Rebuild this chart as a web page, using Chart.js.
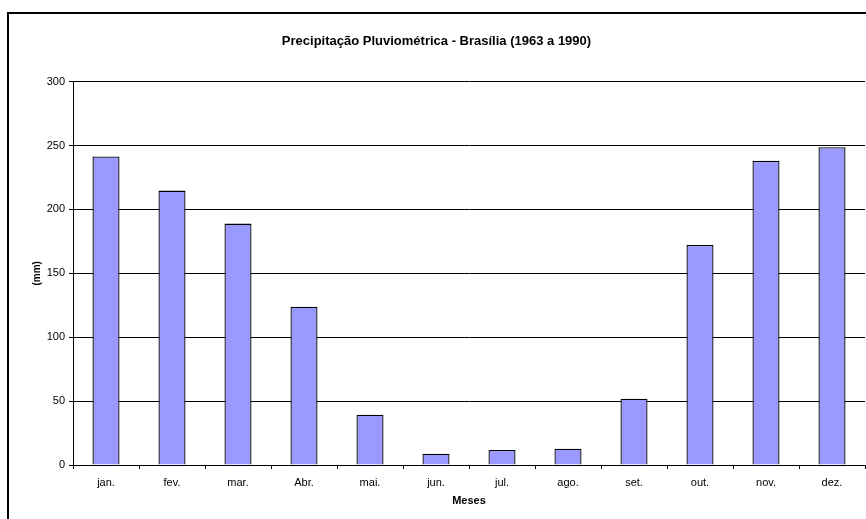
<!DOCTYPE html>
<html>
<head>
<meta charset="utf-8">
<script src="https://cdn.jsdelivr.net/npm/chart.js@4"></script>
<style>
  html, body { margin: 0; padding: 0; background: #fff; overflow: hidden; }
  #wrap { position: relative; width: 866px; height: 519px; }
  #frame { position: absolute; left: 7px; top: 12px; width: 900px; height: 600px; border: 2px solid #000; pointer-events: none; }
</style>
</head>
<body>
<div id="wrap">
  <canvas id="chart" width="866" height="519"></canvas>
  <div id="frame"></div>
</div>
<script>
const months = ['jan.', 'fev.', 'mar.', 'Abr.', 'mai.', 'jun.', 'jul.', 'ago.', 'set.', 'out.', 'nov.', 'dez.'];
const rainfall = [241.4, 214.7, 188.9, 123.8, 39.3, 8.8, 11.8, 12.8, 51.9, 172.1, 238.0, 248.6];
const chartTitle = 'Precipitação Pluviométrica - Brasília (1963 a 1990)';
const xTitle = 'Meses';
const yTitle = '(mm)';

const fontFamily = '"Liberation Sans", Arial, sans-serif';
Chart.defaults.font.family = fontFamily;
Chart.defaults.color = '#000';

new Chart(document.getElementById('chart'), {
    type: 'bar',
    data: {
        labels: months,
        datasets: [{
            data: rainfall,
            backgroundColor: '#9999ff',
            borderColor: '#000',
            borderWidth: 1.3,
            barPercentage: 0.41,
            categoryPercentage: 1
        }]
    },
    options: {
        responsive: false,
        animation: false,
        events: [],
        layout: { padding: { left: 8, right: 1, top: 0, bottom: 0 } },
        plugins: {
            legend: { display: false },
            tooltip: { enabled: false },
            title: {
                display: true,
                text: chartTitle,
                font: { size: 13, weight: 'bold' },
                color: '#000',
                padding: { top: 34, bottom: 32 }
            }
        },
        scales: {
            x: {
                grid: {
                    offset: true,
                    drawOnChartArea: false,
                    drawTicks: true,
                    tickLength: 4,
                    color: '#000'
                },
                border: { color: '#000', width: 1 },
                ticks: { font: { size: 11 }, padding: 7, color: '#000' },
                title: {
                    display: true,
                    text: xTitle,
                    font: { size: 11, weight: 'bold' },
                    color: '#000',
                    padding: { top: 0, bottom: 11 }
                },
                afterFit: function (scale) { scale.height = 54; }
            },
            y: {
                min: 0,
                max: 300,
                ticks: { stepSize: 50, font: { size: 11 }, padding: 4, color: '#000' },
                grid: {
                    color: '#000',
                    drawTicks: true,
                    tickLength: 4
                },
                border: { color: '#000', width: 1 },
                title: {
                    display: true,
                    text: yTitle,
                    font: { size: 10, weight: 'bold' },
                    color: '#000',
                    padding: { top: 23, bottom: 0 }
                },
                afterFit: function (scale) { scale.width = 65; }
            }
        }
    }
});
</script>
</body>
</html>
